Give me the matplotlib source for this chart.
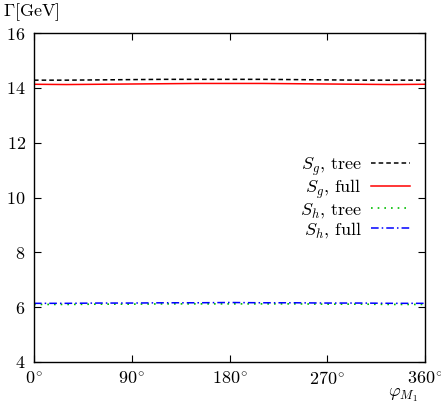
import numpy as np
import matplotlib
matplotlib.use("Agg")
import matplotlib.pyplot as plt

plt.rcParams['mathtext.fontset'] = 'cm'
plt.rcParams['font.family'] = 'serif'
plt.rcParams['font.serif'] = ['cmr10', 'DejaVu Serif']
plt.rcParams['axes.formatter.use_mathtext'] = True

# phase angle (degrees)
phi = [0, 30, 60, 90, 120, 150, 180, 210, 240, 270, 300, 330, 360]
# widths in GeV
sg_tree = [14.28, 14.28, 14.29, 14.30, 14.31, 14.31, 14.31, 14.31, 14.30, 14.29, 14.28, 14.28, 14.28]
sg_full = [14.13, 14.12, 14.13, 14.14, 14.15, 14.16, 14.16, 14.16, 14.15, 14.14, 14.13, 14.12, 14.13]
sh_tree = [6.10, 6.10, 6.11, 6.11, 6.12, 6.12, 6.12, 6.12, 6.12, 6.11, 6.11, 6.10, 6.10]
sh_full = [6.14, 6.14, 6.15, 6.15, 6.16, 6.16, 6.17, 6.16, 6.16, 6.15, 6.15, 6.14, 6.14]

xt = [0, 90, 180, 270, 360]
yt = [4, 6, 8, 10, 12, 14, 16]

fig = plt.figure(figsize=(4.41, 4.09), dpi=100)
ax = fig.add_axes([34/441, 47/409, 391/441, 329/409])

ax.plot(phi, sg_tree, color='black', ls=(0, (3, 2)), lw=1.1, label=r'$S_g$, tree')
ax.plot(phi, sg_full, color='red', ls='-', lw=1.1, label=r'$S_g$, full')
ax.plot(phi, sh_tree, color='#00c000', ls=(0, (1, 3)), lw=1.2, label=r'$S_h$, tree')
ax.plot(phi, sh_full, color='blue', ls=(0, (5, 2, 1, 2)), lw=1.1, label=r'$S_h$, full')

ax.set_xlim(0, 360)
ax.set_ylim(4, 16)
ax.set_xticks(xt)
ax.set_xticklabels([r'$%d^{\!\circ}$' % v for v in xt])
ax.set_yticks(yt)
ax.set_yticklabels([r'$%d$' % v for v in yt])
ax.tick_params(direction='in', length=5, labelsize=13, top=True, right=True, pad=6)
for s in ax.spines.values():
    s.set_linewidth(1.0)

fig.text(3/441, 1 - 12/409, r'$\Gamma[\mathrm{GeV}]$', fontsize=13, va='center', ha='left')
fig.text(418/441, 1 - 395/409, r'$\varphi_{M_1}$', fontsize=13, va='center', ha='right')

ax.legend(loc='center right', bbox_to_anchor=(0.995, 0.5), frameon=False, markerfirst=False,
          fontsize=13, handlelength=2.2, labelspacing=0.0, handletextpad=0.5, borderaxespad=0.3)

fig.savefig('out.png', dpi=100)
